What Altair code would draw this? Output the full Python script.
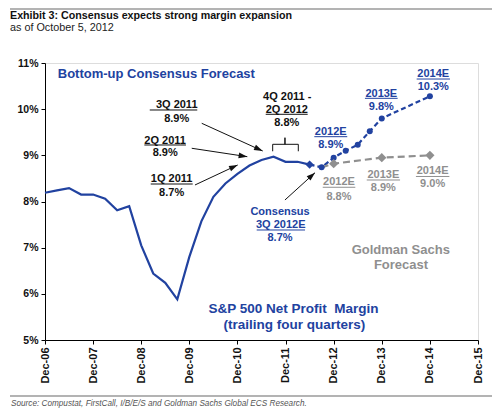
import altair as alt
import pandas as pd

FONT = "Liberation Sans"
BLUE = "#2142a0"
GRAY = "#8f8f8f"

# ---- data ----
actual_quarters = ["Dec-06", "Mar-07", "Jun-07", "Sep-07", "Dec-07", "Mar-08", "Jun-08", "Sep-08",
                   "Dec-08", "Mar-09", "Jun-09", "Sep-09", "Dec-09", "Mar-10", "Jun-10", "Sep-10",
                   "Dec-10", "Mar-11", "Jun-11", "Sep-11", "Dec-11", "Mar-12", "Jun-12"]
actual_margin = [8.19, 8.24, 8.29, 8.15, 8.15, 8.06, 7.81, 7.90,
                 7.05, 6.44, 6.24, 5.88, 6.80, 7.57, 8.10, 8.39,
                 8.60, 8.78, 8.90, 8.97, 8.86, 8.86, 8.80]

consensus_quarters = ["Jun-12", "Sep-12", "Dec-12", "Mar-13", "Jun-13", "Sep-13", "Dec-13", "Dec-14"]
consensus_margin = [8.80, 8.74, 8.95, 9.10, 9.23, 9.52, 9.80, 10.28]

gs_quarters = ["Sep-12", "Dec-12", "Dec-13", "Dec-14"]
gs_margin = [8.74, 8.82, 8.95, 9.00]

x_tick_years = [6, 7, 8, 9, 10, 11, 12, 13, 14, 15]
y_ticks = [5, 6, 7, 8, 9, 10, 11]

title_text = "Exhibit 3: Consensus expects strong margin expansion"
subtitle_text = "as of October 5, 2012"
source_text = "Source: Compustat, FirstCall, I/B/E/S and Goldman Sachs Global ECS Research."

MONTHS = {"Mar": 3, "Jun": 6, "Sep": 9, "Dec": 12}


def qidx(label):
    m, y = label.split("-")
    return (int(y) - 6) * 4 + (MONTHS[m] - 12) // 3


def frame(quarters, values):
    return pd.DataFrame({"q": [qidx(s) for s in quarters], "v": values, "lab": quarters})


actual = frame(actual_quarters, actual_margin)
consensus = frame(consensus_quarters, consensus_margin)
gs = frame(gs_quarters, gs_margin)

# ---- annotations (positions in data units: quarter index, percent) ----
ann_text = ["3Q 2011", "8.9%", "2Q 2011", "8.9%", "1Q 2011", "8.7%",
            "4Q 2011 -", "2Q 2012", "8.8%",
            "2012E", "8.9%", "2013E", "9.8%", "2014E", "10.3%",
            "2012E", "8.8%", "2013E", "8.9%", "2014E", "9.0%",
            "Consensus", "3Q 2012E", "8.7%",
            "Goldman Sachs", "Forecast",
            "S&P 500 Net Profit\u00a0 Margin", "(trailing four quarters)"]
ann_x = [10.95, 10.95, 9.99, 9.99, 10.53, 10.53,
         20.14, 20.10, 20.10,
         23.76, 23.76, 27.96, 27.96, 32.28, 32.28,
         24.44, 24.44, 28.13, 28.13, 32.23, 32.23,
         19.54, 19.60, 19.54,
         29.58, 29.60,
         20.66, 20.74]
ann_y = [10.08, 9.79, 9.315, 9.044, 8.483, 8.178,
         10.268, 9.986, 9.70,
         9.506, 9.224, 10.339, 10.053, 10.757, 10.485,
         8.412, 8.108, 8.570, 8.282, 8.657, 8.375,
         7.777, 7.487, 7.22,
         6.939, 6.618,
         5.661, 5.325]
ann_color = ["#111"] * 9 + [BLUE] * 6 + [GRAY] * 6 + [BLUE] * 3 + [GRAY] * 2 + [BLUE] * 2
ann_size = [11] * 24 + [13] * 2 + [13.5] * 2

ul_x = [8.71, 8.26, 8.79, 18.35, 22.39, 26.60, 30.90, 23.09, 26.75, 30.84, 17.60]
ul_x2 = [12.66, 11.72, 12.28, 21.84, 25.13, 29.32, 33.67, 25.80, 29.52, 33.62, 21.62]
ul_y = [9.982, 9.224, 8.379, 9.889, 9.404, 10.235, 10.653, 8.308, 8.466, 8.542, 7.383]
ul_color = ["#111"] * 4 + [BLUE] * 3 + [GRAY] * 3 + [BLUE]

arr_x = [13.03, 12.20, 12.47, 19.95]
arr_y = [9.694, 9.153, 8.358, 8.033]
arr_x2 = [18.10, 16.82, 16.02, 22.45]
arr_y2 = [9.094, 8.971, 8.791, 8.624]
arr_angle = [114, 99, 65, 48]

br_x = [18.93, 18.93, 19.95, 19.95, 19.95, 21.06, 21.06]
br_y = [9.088, 9.239, 9.239, 9.382, 9.239, 9.239, 9.088]

ann = pd.DataFrame({"x": ann_x, "y": ann_y, "t": ann_text, "c": ann_color, "s": ann_size})
ul = pd.DataFrame({"x": ul_x, "x2": ul_x2, "y": ul_y, "c": ul_color})
arr = pd.DataFrame({"x": arr_x, "y": arr_y, "x2": arr_x2, "y2": arr_y2, "a": arr_angle})
br = pd.DataFrame({"x": br_x, "y": br_y, "o": list(range(len(br_x)))})
dummy = pd.DataFrame({"a": [0]})

xscale = alt.Scale(domain=[0, 36], nice=False, zero=False)
yscale = alt.Scale(domain=[5, 11], nice=False, zero=False)

xaxis = alt.Axis(values=[(y - 6) * 4 for y in x_tick_years],
                 labelExpr="'Dec-' + format(datum.value / 4 + 6, '02d')",
                 labelAngle=270, labelFont=FONT, labelFontSize=11, labelFontWeight="bold",
                 labelColor="#111", tickSize=4, tickColor="#000", domainColor="#000",
                 labelPadding=3, grid=False, title=None)
yaxis = alt.Axis(values=y_ticks, labelExpr="datum.value + '%'",
                 labelFont=FONT, labelFontSize=10.5, labelFontWeight="bold", labelColor="#111",
                 tickSize=4, tickColor="#000", domainColor="#000", labelPadding=3,
                 grid=False, title=None)

X = alt.X("q:Q", scale=xscale, axis=xaxis)
Y = alt.Y("v:Q", scale=yscale, axis=yaxis)

actual_line = alt.Chart(actual).mark_line(color=BLUE, strokeWidth=2.2).encode(x=X, y=Y)
cons_line = alt.Chart(consensus).mark_line(color=BLUE, strokeWidth=2.2, strokeDash=[5, 3]).encode(x=X, y=Y)
cons_pts = alt.Chart(consensus.iloc[1:]).mark_point(shape="circle", filled=True, color=BLUE, size=36, opacity=1).encode(x=X, y=Y)
jun_pt = alt.Chart(actual.iloc[-1:]).mark_point(shape="diamond", filled=True, color=BLUE, size=70, opacity=1).encode(x=X, y=Y)
gs_line = alt.Chart(gs).mark_line(color=GRAY, strokeWidth=2.2, strokeDash=[7, 4]).encode(x=X, y=Y)
gs_pts = alt.Chart(gs.iloc[1:]).mark_point(shape="diamond", filled=True, color=GRAY, size=85, opacity=1).encode(x=X, y=Y)

AX = alt.X("x:Q", scale=xscale, axis=xaxis)
AY = alt.Y("y:Q", scale=yscale, axis=yaxis)

texts = alt.Chart(ann).mark_text(font=FONT, fontWeight="bold", align="center", baseline="middle").encode(
    x=AX, y=AY, text="t:N", color=alt.Color("c:N", scale=None), size=alt.Size("s:Q", scale=None))
bottom_up = alt.Chart(pd.DataFrame({"x": [1.06], "y": [10.766], "t": ["Bottom-up Consensus Forecast"]})).mark_text(
    font=FONT, fontWeight="bold", fontSize=13, align="left", baseline="middle", color=BLUE).encode(x=AX, y=AY, text="t:N")

underlines = alt.Chart(ul).mark_rule(strokeWidth=1).encode(
    x=AX, x2="x2:Q", y=AY, color=alt.Color("c:N", scale=None))
arrow_lines = alt.Chart(arr).mark_rule(strokeWidth=1, color="#111").encode(x=AX, y=AY, x2="x2:Q", y2="y2:Q")
arrow_heads = alt.Chart(arr).mark_point(shape="M0,0L-0.33,1L0.33,1Z", filled=True, color="#111", opacity=1, size=300).encode(
    x=alt.X("x2:Q", scale=xscale, axis=xaxis), y=alt.Y("y2:Q", scale=yscale, axis=yaxis),
    angle=alt.Angle("a:Q", scale=None))
bracket = alt.Chart(br).mark_line(color="#111", strokeWidth=1).encode(x=AX, y=AY, order="o:Q")

# page furniture (title, subtitle, separator rules, source)
top_rule = alt.Chart(dummy).mark_rule(color="#9a9a9a", strokeWidth=1.5).encode(
    x=alt.value(-35), x2=alt.value(447), y=alt.value(-54))
bottom_rule = alt.Chart(dummy).mark_rule(color="#9a9a9a", strokeWidth=1.5).encode(
    x=alt.value(-35), x2=alt.value(447), y=alt.value(333))
title = alt.Chart(dummy).mark_text(
    text=title_text, font=FONT, fontWeight="bold", fontSize=10.7, color="#111",
    align="left", baseline="middle").encode(x=alt.value(-35), y=alt.value(-47.5))
subtitle = alt.Chart(dummy).mark_text(
    text=subtitle_text, font=FONT, fontSize=10.8, color="#222",
    align="left", baseline="middle").encode(x=alt.value(-35), y=alt.value(-35))
source = alt.Chart(dummy).mark_text(
    text=source_text, font=FONT, fontStyle="italic", fontSize=8.2, color="#555",
    align="left", baseline="middle").encode(x=alt.value(-34), y=alt.value(340.5))

chart = alt.layer(
    actual_line, cons_line, gs_line, cons_pts, jun_pt, gs_pts,
    underlines, arrow_lines, arrow_heads, bracket, texts, bottom_up,
    top_rule, bottom_rule, title, subtitle, source,
).properties(
    width=433, height=277,
    autosize=alt.AutoSizeParams(type="none"),
    padding={"left": 37, "top": 55, "right": 14, "bottom": 68},
).configure_view(stroke="#000", strokeWidth=1).configure(background="white")

chart.save("out.html", embed_options={"renderer": "svg", "actions": False})
